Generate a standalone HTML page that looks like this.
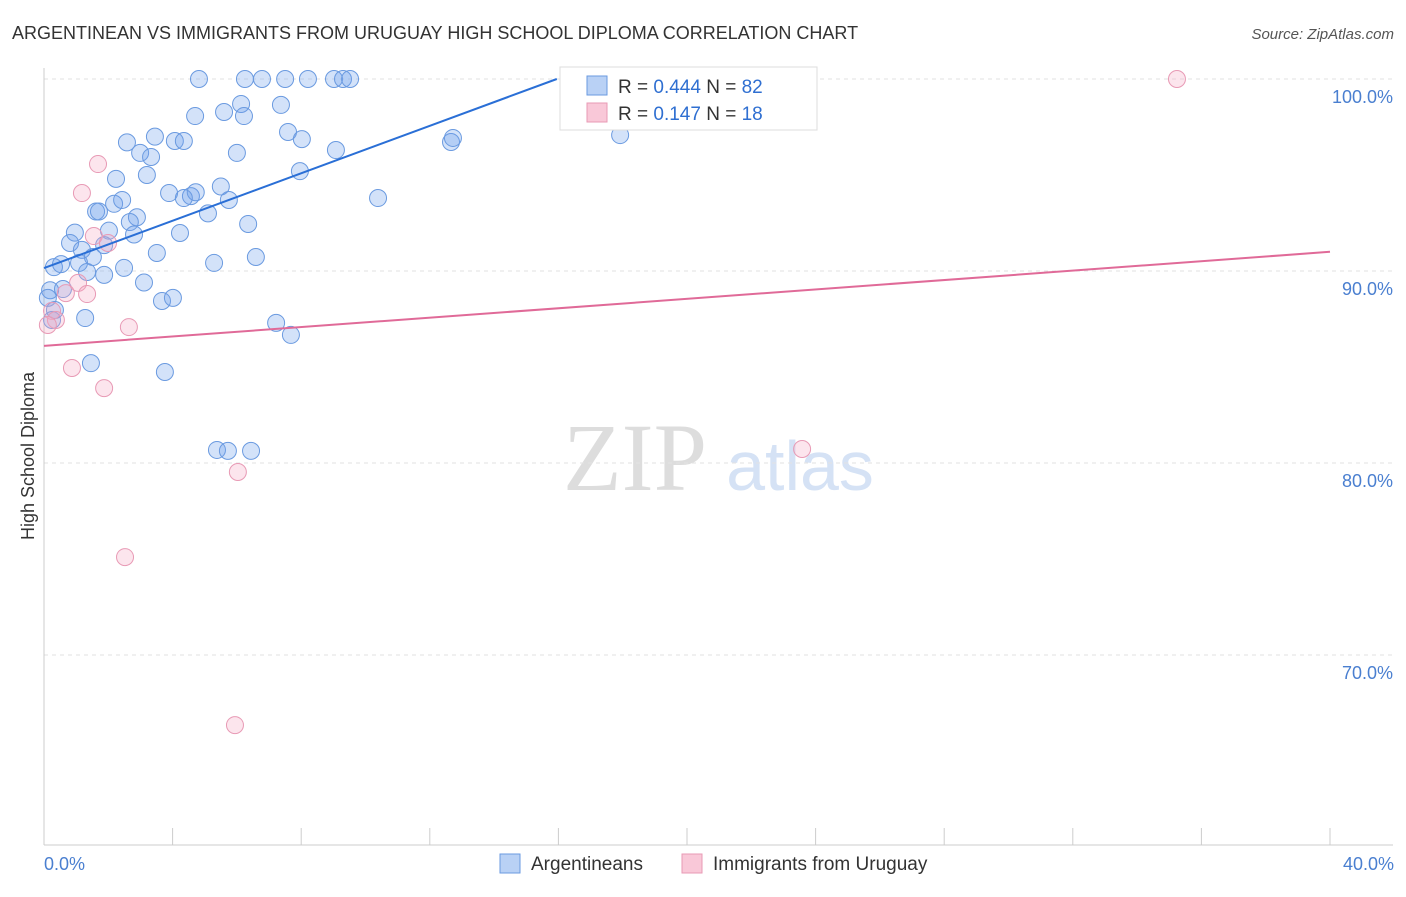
<!DOCTYPE html>
<html><head><meta charset="utf-8"><style>
body{margin:0;background:#fff;font-family:"Liberation Sans",sans-serif;}
</style></head><body>
<svg width="1406" height="892" xmlns="http://www.w3.org/2000/svg" font-family="Liberation Sans, sans-serif">
<text x="12" y="39" font-size="18" fill="#333">ARGENTINEAN VS IMMIGRANTS FROM URUGUAY HIGH SCHOOL DIPLOMA CORRELATION CHART</text>
<text x="1394" y="39" font-size="15" fill="#555" text-anchor="end" font-style="italic">Source: ZipAtlas.com</text>
<text x="635" y="490" font-size="96" fill="#ddd" font-family="Liberation Serif, serif" text-anchor="middle">ZIP</text>
<text x="800" y="490" font-size="70" fill="#d5e2f5" text-anchor="middle">atlas</text>
<g id="grid"></g><g id="axes"></g><g id="marks"></g>
<text transform="translate(34,456) rotate(-90)" font-size="18" fill="#333" text-anchor="middle">High School Diploma</text>
<text x="44" y="870" font-size="18" fill="#4a7fd0">0.0%</text>
<text x="1394" y="870" font-size="18" fill="#4a7fd0" text-anchor="end">40.0%</text>
<g>
<rect x="560" y="67" width="257" height="63" fill="#fff" stroke="#ddd"/>
<rect x="587" y="76" width="20" height="19" fill="#b9d1f5" stroke="#6a9ae0"/>
<rect x="587" y="103" width="20" height="19" fill="#f9c8d8" stroke="#e89ab5"/>
<text x="618" y="93" font-size="19" fill="#333">R = <tspan fill="#2f6fd1">0.444</tspan>   N = <tspan fill="#2f6fd1">82</tspan></text>
<text x="618" y="120" font-size="19" fill="#333">R =  <tspan fill="#2f6fd1">0.147</tspan>   N =  <tspan fill="#2f6fd1">18</tspan></text>
</g>
<g>
<rect x="500" y="854" width="20" height="19" fill="#b9d1f5" stroke="#6a9ae0"/>
<text x="531" y="870" font-size="19" fill="#333">Argentineans</text>
<rect x="682" y="854" width="20" height="19" fill="#f9c8d8" stroke="#e89ab5"/>
<text x="713" y="870" font-size="19" fill="#333">Immigrants from Uruguay</text>
</g>
</svg>
<script>
const blueX=[4.82,6.25,6.78,7.50,8.21,9.02,9.30,9.52,5.60,6.13,7.37,4.70,6.22,2.58,3.45,4.07,4.35,7.59,8.02,9.08,12.66,12.72,17.92,2.99,3.33,6.0,7.96,2.24,3.2,3.89,4.57,4.72,4.35,5.5,5.75,10.39,1.62,1.71,2.18,2.43,2.89,2.67,5.1,6.35,0.96,2.02,2.8,4.23,0.81,1.18,1.87,3.51,1.52,0.31,0.53,1.09,1.34,1.87,2.49,5.29,6.59,3.11,0.19,0.59,0.12,3.67,4.01,1.28,7.22,7.68,1.46,3.76,5.38,5.72,6.44,0.25,0.34];
const blueY=[100,100,100,100,100,100,100,100,98.28,98.7,98.65,98.07,98.07,96.7,97.0,96.77,96.77,97.24,96.87,96.3,96.72,96.93,97.08,96.15,95.94,96.15,95.2,94.8,95.0,94.06,93.9,94.1,93.8,94.4,93.7,93.8,93.1,93.1,93.5,93.7,92.8,92.55,93.0,92.45,92.0,92.1,91.9,91.98,91.46,91.1,91.35,90.94,90.73,90.2,90.36,90.42,89.95,89.8,90.16,90.42,90.73,89.4,89.0,89.06,88.6,88.44,88.6,87.55,87.3,86.67,85.2,84.74,80.68,80.63,80.63,87.45,87.97];
const pinkX=[35.24,1.68,1.18,1.55,1.99,1.06,1.34,0.68,0.25,0.37,0.12,2.64,0.87,1.87,23.58,6.03,2.52,5.94];
const pinkY=[100,95.57,94.06,91.82,91.46,89.38,88.8,88.85,87.92,87.45,87.19,87.08,84.95,83.9,80.73,79.53,75.1,66.35];
const blueTrend=[[0,90.15],[15.95,100]];
const pinkTrend=[[0,86.1],[40,91.0]];
const yTicks=[100,90,80,70];
const xTicks=[0,4,8,12,16,20,24,28,32,36,40];
const sx=v=>44+v*32.15, sy=v=>79+(100-v)*19.2;
const NS='http://www.w3.org/2000/svg';
function mk(t,a,p){const e=document.createElementNS(NS,t);for(const k in a)e.setAttribute(k,a[k]);document.getElementById(p).appendChild(e);return e;}
yTicks.forEach(t=>{
 const l=mk('line',{x1:44,x2:1393,y1:sy(t),y2:sy(t),stroke:'#e2e2e2','stroke-dasharray':'4,4'},'grid');
 
 
 const tx=mk('text',{x:1393,y:sy(t)+24,'font-size':18,fill:'#4a7fd0','text-anchor':'end'},'grid');
 tx.textContent=t.toFixed(1)+'%';
 
 
});
const ya=mk('line',{x1:44,x2:44,y1:68,y2:845,stroke:'#ccc'},'axes');


const xa=mk('line',{x1:44,x2:1393,y1:845,y2:845,stroke:'#ccc'},'axes');


xTicks.forEach(t=>{
 const l=mk('line',{x1:sx(t),x2:sx(t),y1:828,y2:845,stroke:'#ccc'},'axes');
 
 
});
blueX.forEach((x,i)=>{
 const c=mk('circle',{cx:sx(x),cy:sy(blueY[i]),r:8.5,fill:'rgba(110,160,235,0.3)',stroke:'#6a9ae0','stroke-width':1},'marks');
 
 
});
pinkX.forEach((x,i)=>{
 const c=mk('circle',{cx:sx(x),cy:sy(pinkY[i]),r:8.5,fill:'rgba(245,170,195,0.3)',stroke:'#e89ab5','stroke-width':1},'marks');
 
 
});
const bl=mk('line',{x1:sx(blueTrend[0][0]),y1:sy(blueTrend[0][1]),x2:sx(blueTrend[1][0]),y2:sy(blueTrend[1][1]),stroke:'#2a6fd6','stroke-width':2},'marks');


const pl=mk('line',{x1:sx(pinkTrend[0][0]),y1:sy(pinkTrend[0][1]),x2:sx(pinkTrend[1][0]),y2:sy(pinkTrend[1][1]),stroke:'#e06a98','stroke-width':2},'marks');


</script>
</body></html>
